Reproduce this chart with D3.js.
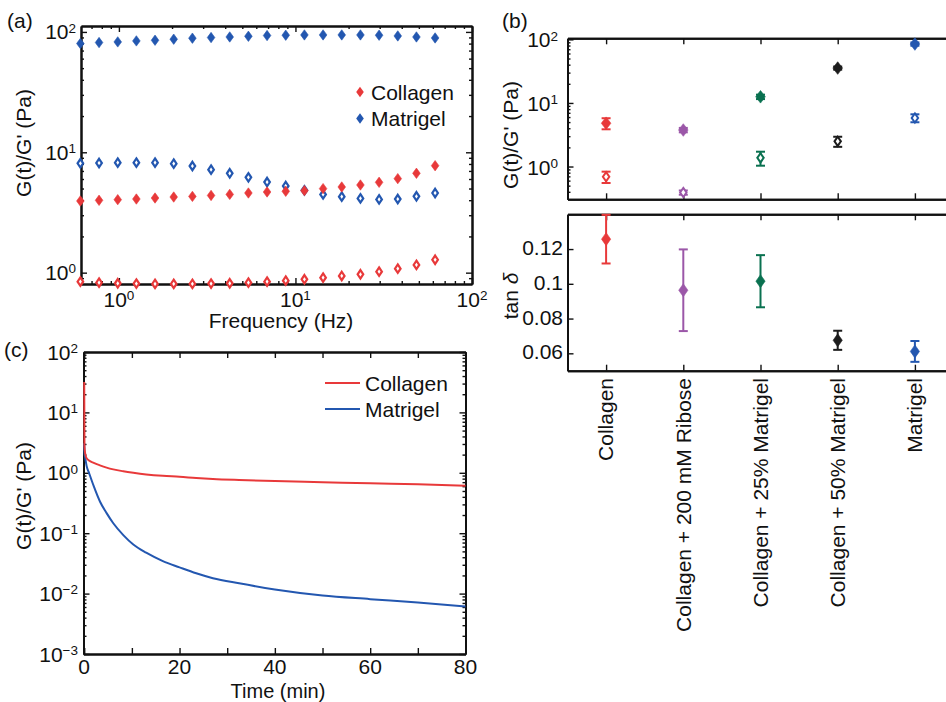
<!DOCTYPE html>
<html>
<head>
<meta charset="utf-8">
<script src="https://cdn.jsdelivr.net/npm/d3@7"></script>
<style>
  body { margin: 0; background: #fff; }
  svg { display: block; }
  text { font-family: "Liberation Sans", Arial, Helvetica, sans-serif; fill: #111; }
</style>
</head>
<body>
<script>
'use strict';

// ---- data ----
// (a) frequency sweep
var freqHz = [0.605, 0.772, 0.985, 1.256, 1.602, 2.044, 2.608, 3.327, 4.244, 5.414,
              6.907, 8.811, 11.24, 14.34, 18.29, 23.34, 29.77, 37.98, 48.45, 61.81];
var collagenStorage = [3.94, 3.99, 4.04, 4.09, 4.17, 4.25, 4.30, 4.38, 4.47, 4.59,
                       4.68, 4.74, 4.80, 4.99, 5.15, 5.35, 5.63, 6.04, 6.69, 7.74];
var collagenLoss = [0.842, 0.826, 0.816, 0.811, 0.806, 0.806, 0.806, 0.811, 0.816, 0.826,
                    0.842, 0.858, 0.881, 0.909, 0.939, 0.969, 1.02, 1.08, 1.16, 1.28];
var matrigelStorage = [80.1, 81.6, 82.6, 84.2, 85.3, 87.0, 88.7, 89.8, 90.8, 92.0,
                       93.3, 93.9, 94.4, 94.4, 94.4, 94.4, 93.9, 92.6, 90.8, 89.1];
var matrigelLoss = [8.10, 8.15, 8.20, 8.20, 8.20, 8.05, 7.69, 7.17, 6.69, 6.19,
                    5.66, 5.25, 4.83, 4.47, 4.28, 4.14, 4.06, 4.09, 4.31, 4.59];

// (b) summary per gel
var gels = ["Collagen", "Collagen + 200 mM Ribose", "Collagen + 25% Matrigel",
            "Collagen + 50% Matrigel", "Matrigel"];
var gelColors = ["#e8393a", "#9b57a8", "#0a7150", "#1c1c1c", "#2357b0"];
var gStorage = [4.8, 3.75, 12.5, 35.4, 84.5];
var gStorageErr = [0.95, 0.3, 1.0, 2.0, 5.0];
var gLoss = [0.69, 0.39, 1.37, 2.49, 5.8];
var gLossErr = [0.14, 0.03, 0.34, 0.45, 0.83];
var tanDelta = [0.1257, 0.0963, 0.1015, 0.0675, 0.0611];
var tanDeltaErr = [0.014, 0.0235, 0.015, 0.0055, 0.006];

// (c) stress relaxation
var timeMin = [0, 0.05, 0.2, 0.5, 1, 2, 3.3, 4.7, 6.1, 8.2, 10.3, 13, 16.5, 20, 23.5,
               27, 32.5, 40, 50, 60, 70, 80];
var collagenRelax = [32, 2.8, 2.1, 1.75, 1.6, 1.46, 1.33, 1.22, 1.14, 1.06, 1.0, 0.94,
                     0.89, 0.86, 0.82, 0.79, 0.76, 0.73, 0.70, 0.67, 0.645, 0.61];
var matrigelRelax = [3.1, 2.2, 1.8, 1.3, 1.0, 0.6, 0.335, 0.215, 0.146, 0.093, 0.065, 0.0475,
                     0.0345, 0.0272, 0.0217, 0.018, 0.0148, 0.0117, 0.0093, 0.0081, 0.0071, 0.0061];

var red = "#e8393a", blue = "#2357b0";
var fs = "21px", fsSup = "13.5px";

var width = 946, height = 702;
var svg = d3.select("body").append("svg")
    .attr("width", width)
    .attr("height", height);

function diamond(w, h) {
    return "M0," + (-h) + "L" + w + ",0L0," + h + "L" + (-w) + ",0Z";
}

function powLabel(sel, e) {
    sel.append("tspan").text("10");
    sel.append("tspan").attr("dy", "-0.5em").attr("font-size", fsSup)
        .text(e < 0 ? "\u2212" + (-e) : e);
}

function isDecade(v) {
    var l = Math.log10(v);
    return Math.abs(l - Math.round(l)) < 1e-6;
}

// ticks pointing inward
function drawAxis(g, axisFn, scale, tx, ty, values, len) {
    var a = g.append("g")
        .attr("transform", "translate(" + tx + "," + ty + ")")
        .call(axisFn(scale).tickValues(values).tickSizeInner(-len).tickSizeOuter(0).tickFormat(""));
    a.select(".domain").attr("stroke", "#111").attr("stroke-width", 2);
    a.selectAll(".tick line").attr("stroke", "#111").attr("stroke-width", 1.4);
    return a;
}

function box(g, x, y, xMaj, xMin, yMaj, yMin) {
    var x0 = x.range()[0], x1 = x.range()[1], y0 = y.range()[0], y1 = y.range()[1];
    drawAxis(g, d3.axisBottom, x, 0, y0, xMin, 3);
    drawAxis(g, d3.axisBottom, x, 0, y0, xMaj, 6);
    drawAxis(g, d3.axisTop, x, 0, y1, xMin, 3);
    drawAxis(g, d3.axisTop, x, 0, y1, xMaj, 6);
    drawAxis(g, d3.axisLeft, y, x0, 0, yMin, 3);
    drawAxis(g, d3.axisLeft, y, x0, 0, yMaj, 6);
    drawAxis(g, d3.axisRight, y, x1, 0, yMin, 3);
    drawAxis(g, d3.axisRight, y, x1, 0, yMaj, 6);
}

function yTitle(g, label, cx, cy) {
    return g.append("text")
        .attr("transform", "translate(" + cx + "," + cy + ") rotate(-90)")
        .attr("text-anchor", "middle")
        .attr("dy", "0.35em")
        .attr("font-size", fs)
        .text(label);
}

// ---------------- panel (a) ----------------
var pa = svg.append("g").attr("id", "panel-a");
var xa = d3.scaleLog().domain([0.61, 100]).range([81, 472]);
var ya = d3.scaleLog().domain([0.805, 112]).range([284, 26]);

var xaTicks = xa.ticks(), yaTicks = ya.ticks();
box(pa, xa, ya,
    xaTicks.filter(isDecade), xaTicks.filter(function(d) { return !isDecade(d); }),
    yaTicks.filter(isDecade), yaTicks.filter(function(d) { return !isDecade(d); }));

function freqSeries(vals, color, open) {
    pa.append("g").selectAll("path")
        .data(vals)
        .enter()
        .append("path")
        .attr("transform", function(d, i) { return "translate(" + xa(freqHz[i]) + "," + ya(d) + ")"; })
        .attr("d", open ? diamond(2.8, 4.2) : diamond(3.8, 5.2))
        .attr("fill", open ? "#fff" : color)
        .attr("stroke", color)
        .attr("stroke-width", open ? 2.2 : 0.6);
}
freqSeries(matrigelStorage, blue, false);
freqSeries(matrigelLoss, blue, true);
freqSeries(collagenStorage, red, false);
freqSeries(collagenLoss, red, true);

pa.selectAll(".ylab")
    .data([1, 10, 100])
    .enter()
    .append("text")
    .attr("x", 76)
    .attr("y", function(d) { return ya(d) + 7.5; })
    .attr("text-anchor", "end")
    .attr("font-size", fs)
    .each(function(d) { powLabel(d3.select(this), Math.round(Math.log10(d))); });

pa.selectAll(".xlab")
    .data([1, 10, 100])
    .enter()
    .append("text")
    .attr("x", function(d) { return xa(d); })
    .attr("y", 307)
    .attr("text-anchor", "middle")
    .attr("font-size", fs)
    .each(function(d) { powLabel(d3.select(this), Math.round(Math.log10(d))); });

pa.append("text").attr("x", 281).attr("y", 328).attr("text-anchor", "middle")
    .attr("font-size", fs).text("Frequency (Hz)");
yTitle(pa, "G(t)/G' (Pa)", 24, 143);
pa.append("text").attr("x", 7).attr("y", 28).attr("font-size", fs).text("(a)");

var legA = pa.append("g").attr("transform", "translate(360,92)");
[["Collagen", red], ["Matrigel", blue]].forEach(function(d, i) {
    legA.append("path").attr("transform", "translate(0," + (i * 26.5) + ")")
        .attr("d", diamond(3.8, 5.2)).attr("fill", d[1]);
    legA.append("text").attr("x", 11).attr("y", i * 26.5 + 7.5)
        .attr("font-size", fs).text(d[0]);
});

// ---------------- panel (b) ----------------
var pb = svg.append("g").attr("id", "panel-b");
var xb = d3.scaleLinear().domain([0.5, 5.5]).range([567.5, 953.5]);
var ybTop = d3.scaleLog().domain([0.305, 104]).range([199.3, 38.3]);
var ybBot = d3.scaleLinear().domain([0.05, 0.14]).range([370.7, 214.3]);
var gelIdx = d3.range(1, gels.length + 1);

var ybtTicks = ybTop.ticks();
box(pb, xb, ybTop, gelIdx, [], ybtTicks.filter(isDecade),
    ybtTicks.filter(function(d) { return !isDecade(d); }));
box(pb, xb, ybBot, gelIdx, [], [0.06, 0.08, 0.1, 0.12], []);

function errPoints(yScale, vals, errs, open, w, h) {
    var g = pb.append("g");
    vals.forEach(function(v, i) {
        var cx = xb(i + 1), c = gelColors[i];
        var lo = yScale(v - errs[i]), hi = yScale(v + errs[i]);
        g.append("line").attr("x1", cx).attr("x2", cx).attr("y1", lo).attr("y2", hi)
            .attr("stroke", c).attr("stroke-width", 2);
        [lo, hi].forEach(function(yy) {
            g.append("line").attr("x1", cx - 4.5).attr("x2", cx + 4.5).attr("y1", yy).attr("y2", yy)
                .attr("stroke", c).attr("stroke-width", 2);
        });
        g.append("path")
            .attr("transform", "translate(" + cx + "," + yScale(v) + ")")
            .attr("d", diamond(w, h))
            .attr("fill", open ? "#fff" : c)
            .attr("stroke", c)
            .attr("stroke-width", open ? 2 : 0.6);
    });
}
errPoints(ybTop, gLoss, gLossErr, true, 3.2, 4.6);
errPoints(ybTop, gStorage, gStorageErr, false, 4.8, 6.3);
errPoints(ybBot, tanDelta, tanDeltaErr, false, 4.6, 6.5);

pb.selectAll(".ylabt")
    .data([1, 10, 100])
    .enter()
    .append("text")
    .attr("x", 558)
    .attr("y", function(d) { return ybTop(d) + 8; })
    .attr("text-anchor", "end")
    .attr("font-size", fs)
    .each(function(d) { powLabel(d3.select(this), Math.round(Math.log10(d))); });

pb.selectAll(".ylabb")
    .data([0.06, 0.08, 0.1, 0.12])
    .enter()
    .append("text")
    .attr("x", 563)
    .attr("y", function(d) { return ybBot(d) + 6; })
    .attr("text-anchor", "end")
    .attr("font-size", fs)
    .text(function(d) { return String(d); });

pb.selectAll(".cat")
    .data(gels)
    .enter()
    .append("text")
    .attr("transform", function(d, i) { return "translate(" + xb(i + 1) + ",378) rotate(-90)"; })
    .attr("text-anchor", "end")
    .attr("dy", "0.35em")
    .attr("font-size", fs)
    .text(function(d) { return d; });

yTitle(pb, "G(t)/G' (Pa)", 511, 135);
var tanLab = yTitle(pb, "tan ", 511, 296);
tanLab.append("tspan").attr("font-style", "italic").text("\u03b4");
pb.append("text").attr("x", 502).attr("y", 28).attr("font-size", fs).text("(b)");

// ---------------- panel (c) ----------------
var pc = svg.append("g").attr("id", "panel-c");
var xc = d3.scaleLinear().domain([-0.15, 80]).range([83.5, 465.5]);
var yc = d3.scaleLog().domain([1e-3, 1e2]).range([654, 352]);

var ycTicks = yc.ticks();
box(pc, xc, yc, d3.range(0, 81, 10), [],
    ycTicks.filter(isDecade), ycTicks.filter(function(d) { return !isDecade(d); }));

var line = d3.line()
    .x(function(d) { return xc(d[0]); })
    .y(function(d) { return yc(d[1]); })
    .curve(d3.curveMonotoneX);

pc.append("path")
    .attr("d", line(timeMin.map(function(t, i) { return [t, matrigelRelax[i]]; })))
    .attr("fill", "none").attr("stroke", blue).attr("stroke-width", 2);
pc.append("path")
    .attr("d", line(timeMin.map(function(t, i) { return [t, collagenRelax[i]]; })))
    .attr("fill", "none").attr("stroke", red).attr("stroke-width", 2);

pc.selectAll(".ylabc")
    .data(yc.ticks().filter(isDecade))
    .enter()
    .append("text")
    .attr("x", 78)
    .attr("y", function(d) { return yc(d) + 7.5; })
    .attr("text-anchor", "end")
    .attr("font-size", fs)
    .each(function(d) { powLabel(d3.select(this), Math.round(Math.log10(d))); });

pc.selectAll(".xlabc")
    .data(d3.range(0, 81, 20))
    .enter()
    .append("text")
    .attr("x", function(d) { return xc(d); })
    .attr("y", 673.5)
    .attr("text-anchor", "middle")
    .attr("font-size", fs)
    .text(function(d) { return d; });

pc.append("text").attr("x", 278).attr("y", 697.5).attr("text-anchor", "middle")
    .attr("font-size", "20px").text("Time (min)");
yTitle(pc, "G(t)/G' (Pa)", 24, 496);
pc.append("text").attr("x", 4).attr("y", 357).attr("font-size", fs).text("(c)");

var legC = pc.append("g").attr("transform", "translate(325,383)");
[["Collagen", red], ["Matrigel", blue]].forEach(function(d, i) {
    legC.append("line").attr("x1", 0).attr("x2", 35).attr("y1", i * 26).attr("y2", i * 26)
        .attr("stroke", d[1]).attr("stroke-width", 2);
    legC.append("text").attr("x", 40).attr("y", i * 26 + 7.5)
        .attr("font-size", fs).text(d[0]);
});
</script>
</body>
</html>
